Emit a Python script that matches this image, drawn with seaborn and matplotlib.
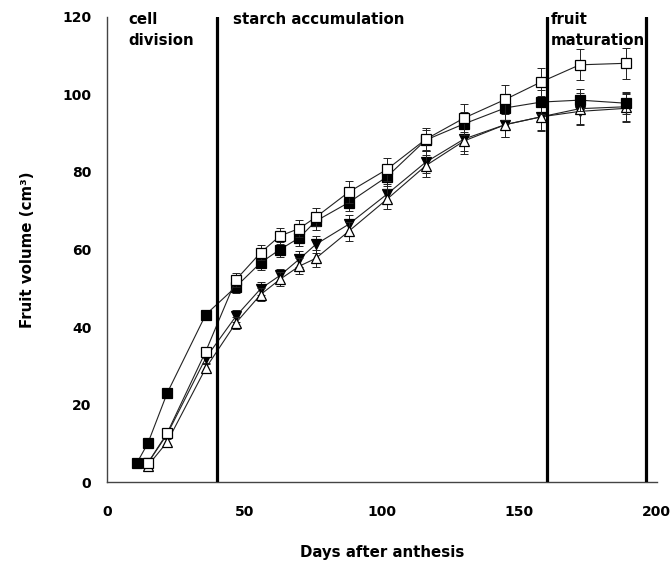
import numpy as np
import pandas as pd
import matplotlib
matplotlib.use("Agg")
import matplotlib.pyplot as plt
from matplotlib.ticker import MultipleLocator
import seaborn as sns

# ---------------- data ----------------
days_filled_sq = [11, 15, 22, 36, 47, 56, 63, 70, 76, 88, 102, 116, 130, 145, 158, 172, 189]
days_other = [15, 22, 36, 47, 56, 63, 70, 76, 88, 102, 116, 130, 145, 158, 172, 189]

vol_filled_sq = [5.0, 10.1, 23.0, 43.2, 50.4, 56.6, 60.0, 63.0, 67.3, 72.1, 78.8, 88.2, 92.4, 96.5, 98.0, 98.5, 97.7]
err_filled_sq = [0.5, 0.6, 0.7, 1.2, 1.5, 1.8, 2.0, 2.0, 2.2, 2.3, 2.5, 2.6, 3.0, 3.0, 3.0, 2.8, 2.8]

vol_open_sq = [5.0, 12.7, 33.7, 52.2, 59.2, 63.5, 65.4, 68.3, 74.8, 80.7, 88.4, 93.9, 98.7, 103.2, 107.6, 108.0]
err_open_sq = [0.5, 0.7, 1.2, 1.8, 2.0, 2.0, 2.2, 2.3, 2.8, 3.0, 2.9, 3.5, 3.8, 3.7, 4.0, 4.0]

vol_filled_tri = [5.0, 12.4, 32.0, 42.8, 49.9, 53.3, 57.5, 61.3, 66.5, 74.3, 82.5, 88.5, 92.2, 94.2, 95.6, 96.4]
err_filled_tri = [0.5, 0.7, 1.2, 1.5, 1.6, 1.8, 2.0, 2.2, 2.5, 2.6, 2.8, 3.0, 3.2, 3.4, 3.6, 3.6]

vol_open_tri = [4.3, 10.4, 29.4, 41.1, 48.4, 52.3, 55.7, 57.7, 64.7, 73.0, 81.6, 88.0, 92.2, 94.2, 96.3, 96.8]
err_open_tri = [0.5, 0.7, 1.2, 1.5, 1.6, 1.8, 2.0, 2.2, 2.5, 2.6, 2.8, 3.4, 3.2, 3.6, 4.0, 3.6]

phase_bounds = [40, 160, 196]
phase_label_lines = [["cell", "division"], ["starch accumulation"], ["fruit", "maturation"]]
phase_label_x = [7.8, 45.9, 161.4]

x_label = "Days after anthesis"
y_label = "Fruit volume (cm\u00b3)"

# ---------------- style ----------------
sns.set_theme(style="white")
plt.rcParams["font.family"] = ["DejaVu Sans"]
plt.rcParams["font.weight"] = "bold"
plt.rcParams["axes.labelweight"] = "bold"
plt.rcParams["text.color"] = "black"
plt.rcParams["axes.labelcolor"] = "black"

fig = plt.figure(figsize=(6.71, 5.61), dpi=100)
ax = fig.add_axes([0.159, 0.1403, 0.8197, 0.8299])

series = [
    ("filled_tri", days_other, vol_filled_tri, err_filled_tri, "v", "black"),
    ("open_tri", days_other, vol_open_tri, err_open_tri, "^", "white"),
    ("filled_sq", days_filled_sq, vol_filled_sq, err_filled_sq, "s", "black"),
    ("open_sq", days_other, vol_open_sq, err_open_sq, "s", "white"),
]

for i, (name, d, v, e, m, fc) in enumerate(series):
    df = pd.DataFrame({"day": d, "volume": v})
    ax.errorbar(d, v, yerr=e, fmt="none", ecolor="#222222", elinewidth=0.7,
                capsize=2.6, capthick=0.7, zorder=2 + i)
    sns.lineplot(data=df, x="day", y="volume", ax=ax, color="#222222",
                 linewidth=0.8, marker=m, markersize=7.2,
                 markerfacecolor=fc, markeredgecolor="black",
                 markeredgewidth=0.9, zorder=3 + i, legend=False,
                 estimator=None, sort=False)

for xb in phase_bounds:
    ax.axvline(xb, color="black", linewidth=2.3, zorder=10)

line_baselines = [118.1, 112.6]
for xl, lines in zip(phase_label_x, phase_label_lines):
    for j, txt in enumerate(lines):
        ax.text(xl, line_baselines[j], txt, fontsize=10.8, fontweight="bold",
                ha="left", va="baseline", color="black", zorder=12)

ax.set_xlim(0, 200)
ax.set_ylim(0, 120)
ax.xaxis.set_major_locator(MultipleLocator(50))
ax.xaxis.set_minor_locator(MultipleLocator(10))
ax.yaxis.set_major_locator(MultipleLocator(20))
ax.yaxis.set_minor_locator(MultipleLocator(5))

ax.tick_params(axis="both", which="both", direction="in", color="#333333",
               width=0.8, labelsize=10, labelcolor="black")
ax.tick_params(axis="both", which="major", length=7)
ax.tick_params(axis="both", which="minor", length=4)
ax.tick_params(axis="x", which="major", pad=16)
ax.tick_params(axis="y", which="major", pad=11)
for lab in ax.get_xticklabels() + ax.get_yticklabels():
    lab.set_fontweight("bold")

for side in ["top", "right"]:
    ax.spines[side].set_visible(False)
for side in ["left", "bottom"]:
    ax.spines[side].set_color("#444444")
    ax.spines[side].set_linewidth(1.0)

ax.set_xlabel(x_label, fontsize=10.8, fontweight="bold", labelpad=19)
ax.set_ylabel(y_label, fontsize=10.8, fontweight="bold", labelpad=20)
ax.grid(False)

fig.savefig("out.png", dpi=100)
